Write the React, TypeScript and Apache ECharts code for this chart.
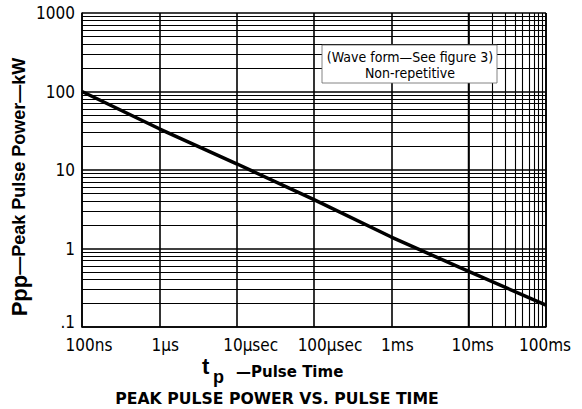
import React, { useEffect, useRef } from "react";
import * as echarts from "echarts";

const pulseTimes = [1e-7, 1e-6, 1e-5, 1e-4, 1e-3, 1e-2, 1e-1];
const peakPower = [100, 33.5, 12, 4.2, 1.4, 0.51, 0.19];
const xTickLabels = ["100ns", "1μs", "10μsec", "100μsec", "1ms", "10ms", "100ms"];
const yTickLabels = [".1", "1", "10", "100", "1000"];
const xDecades = [1e-7, 1e-6, 1e-5, 1e-4, 1e-3, 1e-2];
const yDecades = [0.1, 1, 10, 100];
const minorSteps = [2, 3, 4, 5, 6, 7, 8, 9];
const annotationLines = ["(Wave form—See figure 3)", "Non-repetitive"];
const yTitleMain = "Ppp";
const yTitleRest = "—Peak Pulse Power—kW";
const xTitleMain = "t";
const xTitleSub = "p";
const xTitleRest = "—Pulse Time";
const chartTitle = "PEAK PULSE POWER VS. PULSE TIME";

const NARROW = "'DejaVu Sans Condensed', 'Liberation Sans', sans-serif";
const BOLD = "'Liberation Sans', Arial, sans-serif";
const WIDEBOLD = "'DejaVu Sans', Verdana, sans-serif";
// horizontal nudges (px) of x tick labels, as placed in the reference
const xLabelNudge = [7, 6, 14, 16, 6, 4, -1];

export default function App() {
  const ref = useRef<HTMLDivElement>(null);
  useEffect(() => {
    if (!ref.current) return;
    const chart = echarts.init(ref.current, undefined, { renderer: "svg" });
    const minorX: any[] = [];
    xDecades.forEach((d) => minorSteps.forEach((m) => minorX.push({ xAxis: d * m })));
    const minorY: any[] = [];
    yDecades.forEach((d) => minorSteps.forEach((m) => minorY.push({ yAxis: d * m })));
    const xRich: any = {};
    xLabelNudge.forEach((n, i) => {
      xRich["s" + i] = {
        fontFamily: NARROW,
        fontSize: 17,
        color: "#000",
        padding: n >= 0 ? [0, 0, 0, 2 * n] : [0, -2 * n, 0, 0],
      };
    });
    const xLabelOf = (v: number) => {
      const i = Math.round(Math.log10(v)) + 7;
      const s = xTickLabels[i];
      return s ? "{s" + i + "|" + s + "}" : "";
    };
    const yLabelOf = (v: number) => {
      const i = Math.round(Math.log10(v)) + 1;
      const s = yTickLabels[i];
      if (!s) return "";
      return i === 0 ? "{lo|" + s + "}" : "{n|" + s + "}";
    };
    chart.setOption({
      animation: false,
      backgroundColor: "#fff",
      grid: { left: 82, right: 36, top: 13, bottom: 82, containLabel: false },
      xAxis: {
        type: "log",
        logBase: 10,
        min: 1e-7,
        max: 1e-1,
        splitNumber: 6,
        axisLine: { show: true, lineStyle: { color: "#000", width: 1.5 } },
        axisTick: { show: false },
        splitLine: { show: true, lineStyle: { color: "#000", width: 1.6 } },
        axisLabel: {
          formatter: xLabelOf,
          color: "#000",
          fontFamily: NARROW,
          fontSize: 17,
          margin: 9,
          rich: xRich,
        },
      },
      yAxis: {
        type: "log",
        logBase: 10,
        min: 0.1,
        max: 1000,
        splitNumber: 4,
        axisLine: { show: true, lineStyle: { color: "#000", width: 1.5 } },
        axisTick: { show: false },
        splitLine: { show: true, lineStyle: { color: "#000", width: 1.6 } },
        axisLabel: {
          formatter: yLabelOf,
          color: "#000",
          fontFamily: NARROW,
          fontSize: 17,
          margin: 7,
          rich: {
            n: { fontFamily: NARROW, fontSize: 17, color: "#000" },
            lo: { fontFamily: NARROW, fontSize: 17, color: "#000", padding: [0, 0, 10, 0] },
          },
        },
      },
      series: [
        {
          type: "line",
          data: pulseTimes.map((t, i) => [t, peakPower[i]]),
          showSymbol: false,
          symbol: "none",
          lineStyle: { color: "#000", width: 3.5 },
          z: 5,
          markLine: {
            silent: true,
            symbol: ["none", "none"],
            label: { show: false },
            lineStyle: { color: "#000", width: 1.1, type: "solid" },
            data: [...minorX, ...minorY],
            z: 1,
          },
        },
      ],
      graphic: [
        {
          type: "rect",
          shape: { x: 322, y: 45, width: 175, height: 38 },
          style: { fill: "#fff", stroke: "#666", lineWidth: 0.8 },
          z: 100,
        },
        {
          type: "text",
          x: 410,
          y: 65,
          style: {
            text: annotationLines.join("\n"),
            fontFamily: NARROW,
            fontSize: 14,
            lineHeight: 16,
            fill: "#000",
            align: "center",
            verticalAlign: "middle",
          },
          z: 101,
        },
        {
          type: "text",
          x: 19,
          y: 187,
          rotation: Math.PI / 2,
          style: {
            text: "{a|" + yTitleMain + "}{b|" + yTitleRest + "}",
            align: "center",
            verticalAlign: "middle",
            fill: "#000",
            rich: {
              a: { fontFamily: BOLD, fontWeight: "bold", fontSize: 22, fill: "#000" },
              b: { fontFamily: BOLD, fontWeight: "bold", fontSize: 18, fill: "#000" },
            },
          },
        },
        {
          type: "text",
          x: 202,
          y: 377,
          style: {
            text: xTitleMain,
            fontFamily: BOLD,
            fontWeight: "bold",
            fontSize: 22,
            fill: "#000",
            align: "left",
            verticalAlign: "bottom",
          },
        },
        {
          type: "text",
          x: 213,
          y: 386,
          style: {
            text: xTitleSub,
            fontFamily: BOLD,
            fontWeight: "bold",
            fontSize: 18,
            fill: "#000",
            align: "left",
            verticalAlign: "bottom",
          },
        },
        {
          type: "text",
          x: 236,
          y: 372,
          style: {
            text: xTitleRest,
            fontFamily: WIDEBOLD,
            fontWeight: "bold",
            fontSize: 15,
            fill: "#000",
            align: "left",
            verticalAlign: "middle",
          },
        },
        {
          type: "text",
          x: 277,
          y: 398,
          style: {
            text: chartTitle,
            fontFamily: WIDEBOLD,
            fontWeight: "bold",
            fontSize: 15.7,
            fill: "#000",
            align: "center",
            verticalAlign: "middle",
          },
        },
      ],
    });
    return () => chart.dispose();
  }, []);
  return <div ref={ref} style={{ width: 582, height: 409, position: "absolute", left: 0, top: 0 }} />;
}
